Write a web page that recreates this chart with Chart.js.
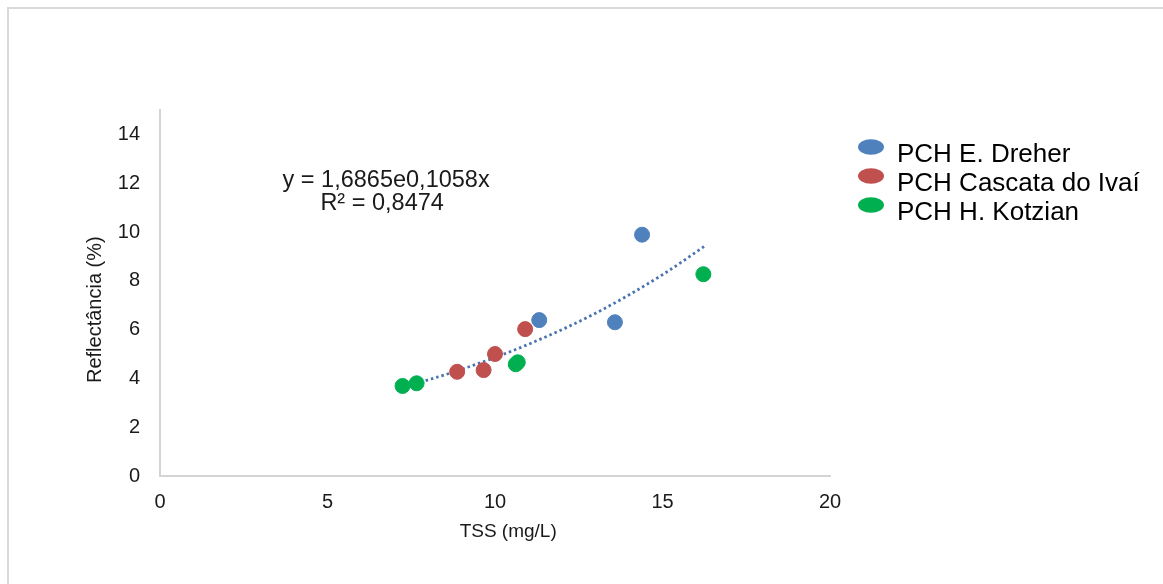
<!DOCTYPE html>
<html>
<head>
<meta charset="utf-8">
<script src="https://cdn.jsdelivr.net/npm/chart.js@4.4.1/dist/chart.umd.min.js"></script>
<style>
  body { margin: 0; background: #fff; overflow: hidden; }
  #wrap { position: relative; width: 1163px; height: 584px; }
  #frame { position: absolute; left: 7px; top: 7px; width: 2000px; height: 2000px; border: 2px solid #d9d9d9; pointer-events: none; }
  canvas { position: absolute; left: 0; top: 0; }
</style>
</head>
<body>
<div id="wrap">
  <canvas id="myChart" width="1163" height="584"></canvas>
  <div id="frame"></div>
</div>
<script>
// dados
const dreherX = [11.32, 13.58, 14.39];
const dreherY = [6.39, 6.30, 9.89];
const cascataX = [8.87, 9.66, 10.0, 10.90];
const cascataY = [4.27, 4.34, 5.0, 6.02];
const kotzianX = [7.24, 7.66, 10.62, 10.68, 16.22];
const kotzianY = [3.69, 3.80, 4.58, 4.66, 8.27];
// linha de tendência (exponencial)
const trendX = [7.3, 9, 11, 13, 15, 16.3];
const trendY = [3.65, 4.37, 5.40, 6.67, 8.25, 9.46];
const seriesNames = ['PCH E. Dreher', 'PCH Cascata do Ivaí', 'PCH H. Kotzian'];
const seriesColors = ['#4f81bd', '#c0504d', '#00b050'];
const xTicks = [0, 5, 10, 15, 20];
const yTicks = [0, 2, 4, 6, 8, 10, 12, 14];
const eqLines = ['y = 1,6865e0,1058x', 'R² = 0,8474'];

function pts(xs, ys) {
    return xs.map((x, i) => ({ x: x, y: ys[i] }));
}

// marcador elíptico da legenda
function ellipse(color) {
    const c = document.createElement('canvas');
    c.width = 28; c.height = 32;
    const g = c.getContext('2d');
    g.fillStyle = color;
    g.beginPath();
    g.ellipse(14, 8, 13, 7.8, 0, 0, Math.PI * 2);
    g.fill();
    return c;
}

const eqPlugin = {
    id: 'eq',
    afterLayout(chart) {
        const lg = chart.legend;
        lg.left = 855; lg.top = 139;
        lg.right = lg.left + lg.width;
        lg.bottom = lg.top + lg.height;
    },
    afterDatasetsDraw(chart) {
        const ctx = chart.ctx;
        const x = chart.scales.x.getPixelForValue(6.75);
        const y = chart.scales.y.getPixelForValue(12.13);
        ctx.save();
        ctx.font = '23.5px "Liberation Sans", Arial, sans-serif';
        ctx.fillStyle = '#1a1a1a';
        ctx.textAlign = 'center';
        ctx.textBaseline = 'middle';
        ctx.fillText(eqLines[0], x, y);
        ctx.fillText(eqLines[1], x - 4, y + 23);
        ctx.restore();
    }
};

const font = { family: '"Liberation Sans", Arial, sans-serif', size: 20 };

const scatterSet = (i, xs, ys) => ({
    label: seriesNames[i],
    data: pts(xs, ys),
    backgroundColor: seriesColors[i],
    borderColor: seriesColors[i],
    borderWidth: 1,
    pointRadius: 7.5,
    order: 1
});

new Chart(document.getElementById('myChart').getContext('2d'), {
    type: 'scatter',
    data: {
        datasets: [
            scatterSet(0, dreherX, dreherY),
            scatterSet(1, cascataX, cascataY),
            scatterSet(2, kotzianX, kotzianY),
            {
                type: 'line',
                label: 'tendência',
                data: pts(trendX, trendY),
                borderColor: '#4a72b0',
                borderWidth: 2.8,
                borderDash: [2.5, 3],
                cubicInterpolationMode: 'monotone',
                pointRadius: 0,
                fill: false,
                order: 2
            }
        ]
    },
    options: {
        responsive: false,
        animation: false,
        devicePixelRatio: 1,
        layout: { padding: { left: 0, top: 110, right: 333, bottom: 0 } },
        plugins: {
            tooltip: { enabled: false },
            legend: {
                position: 'chartArea',
                align: 'start',
                labels: {
                    usePointStyle: true,
                    pointStyleWidth: 26,
                    padding: 3,
                    color: '#1a1a1a',
                    font: { family: font.family, size: 26 },
                    generateLabels(chart) {
                        return seriesNames.map((n, i) => ({
                            text: n,
                            fillStyle: seriesColors[i],
                            strokeStyle: 'rgba(0,0,0,0)',
                            lineWidth: 0,
                            pointStyle: ellipse(seriesColors[i]),
                            hidden: false,
                            datasetIndex: i
                        }));
                    }
                }
            }
        },
        scales: {
            x: {
                type: 'linear',
                min: 0, max: 20,
                afterBuildTicks: s => { s.ticks = xTicks.map(v => ({ value: v })); },
                afterFit: s => { s.height = 108; },
                grid: { display: false },
                border: { display: true, color: '#d4d4d4', width: 2 },
                ticks: { font: font, color: '#1a1a1a', padding: 6 },
                title: { display: true, text: '     TSS (mg/L)', font: { family: font.family, size: 19 }, color: '#1a1a1a', padding: { top: 0, bottom: 41 } }
            },
            y: {
                type: 'linear',
                min: 0, max: 15,
                afterBuildTicks: s => { s.ticks = yTicks.map(v => ({ value: v })); },
                afterFit: s => { s.width = 160; },
                grid: { display: false },
                border: { display: true, color: '#d4d4d4', width: 2 },
                ticks: { font: font, color: '#1a1a1a', padding: 12 },
                title: { display: true, text: 'Reflectância (%)      ', font: font, color: '#1a1a1a', padding: { top: 83, bottom: 0 } }
            }
        }
    },
    plugins: [eqPlugin]
});
</script>
</body>
</html>
